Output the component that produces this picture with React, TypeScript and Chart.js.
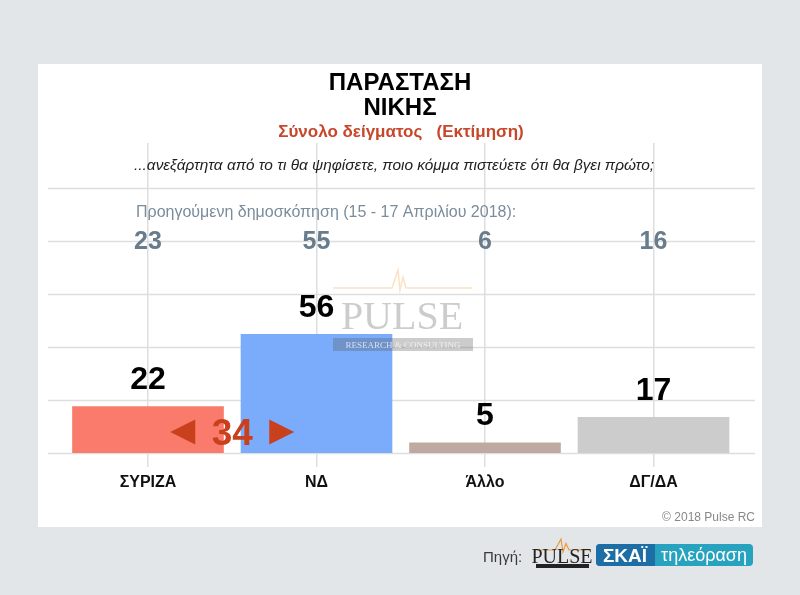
import React, { useEffect, useRef } from 'react';
import { Chart, registerables } from 'chart.js';

Chart.register(...registerables);

const categories = ['ΣΥΡΙΖΑ', 'ΝΔ', 'Άλλο', 'ΔΓ/ΔΑ'];
const currentValues = [22, 56, 5, 17];
const previousValues = [23, 55, 6, 16];
const barColors = ['#fa7b6c', '#7aacfb', '#bfaaa2', '#cccccc'];
const gridValues = [0, 25, 50, 75, 100, 125];
const titleLines = ['ΠΑΡΑΣΤΑΣΗ', 'ΝΙΚΗΣ'];
const subtitleText = 'Σύνολο δείγματος   (Εκτίμηση)';
const questionText = '...ανεξάρτητα από το τι θα ψηφίσετε, ποιο κόμμα πιστεύετε ότι θα βγει πρώτο;';
const previousLabel = 'Προηγούμενη δημοσκόπηση (15 - 17 Απριλίου 2018):';
const copyrightText = '© 2018 Pulse RC';
const sourceLabel = 'Πηγή:';
const pulseText = 'PULSE';
const pulseSub = 'RESEARCH & CONSULTING';
const skaiText = 'ΣΚΑΪ';
const tvText = 'τηλεόραση';

const SANS = '"Liberation Sans", Arial, sans-serif';
const SERIF = '"Liberation Serif", "Times New Roman", serif';

const backgroundPlugin = {
  id: 'panelBackground',
  beforeDraw(chart: any) {
    const ctx = chart.ctx;
    ctx.save();
    ctx.fillStyle = '#e3e6e9';
    ctx.fillRect(0, 0, chart.width, chart.height);
    ctx.fillStyle = '#ffffff';
    ctx.fillRect(38, 64, 724, 463);
    ctx.restore();
  },
};

const hGridPlugin = {
  id: 'hGrid',
  beforeDatasetsDraw(chart: any) {
    const ctx = chart.ctx;
    const y = chart.scales.y;
    ctx.save();
    ctx.strokeStyle = '#dedede';
    ctx.lineWidth = 1.5;
    gridValues.forEach((v) => {
      const py = Math.round(y.getPixelForValue(v)) + 0.5;
      ctx.beginPath();
      ctx.moveTo(48, py);
      ctx.lineTo(755, py);
      ctx.stroke();
    });
    ctx.restore();
  },
};

function drawPulseMark(ctx: CanvasRenderingContext2D, x0: number, x1: number, lineY: number, spikeX: number, spikeH: number) {
  ctx.beginPath();
  ctx.moveTo(x0, lineY);
  ctx.lineTo(spikeX - 6, lineY);
  ctx.lineTo(spikeX - 3, lineY - spikeH * 0.5);
  ctx.lineTo(spikeX, lineY - spikeH);
  ctx.lineTo(spikeX + 2, lineY + 2);
  ctx.lineTo(spikeX + 5, lineY - spikeH * 0.6);
  ctx.lineTo(spikeX + 8, lineY);
  ctx.lineTo(x1, lineY);
  ctx.stroke();
}

const textPlugin = {
  id: 'texts',
  afterDatasetsDraw(chart: any) {
    const ctx: CanvasRenderingContext2D = chart.ctx;
    const xs = chart.scales.x;
    const ys = chart.scales.y;
    ctx.save();

    // watermark
    ctx.globalAlpha = 0.3;
    ctx.strokeStyle = '#f0a040';
    ctx.lineWidth = 1.5;
    drawPulseMark(ctx, 333, 472, 288, 398, 18);
    ctx.fillStyle = '#555555';
    ctx.font = `40px ${SERIF}`;
    ctx.textAlign = 'center';
    ctx.textBaseline = 'alphabetic';
    ctx.fillText(pulseText, 402, 329);
    ctx.fillRect(333, 338, 140, 13);
    ctx.globalAlpha = 0.7;
    ctx.fillStyle = '#ffffff';
    ctx.font = `9px ${SERIF}`;
    ctx.fillText(pulseSub, 403, 348);
    ctx.globalAlpha = 1;

    // titles
    ctx.fillStyle = '#000000';
    ctx.font = `bold 24px ${SANS}`;
    ctx.textAlign = 'center';
    ctx.fillText(titleLines[0], 400, 90);
    ctx.fillText(titleLines[1], 400, 115);
    ctx.fillStyle = '#c8462a';
    ctx.font = `bold 17px ${SANS}`;
    ctx.fillText(subtitleText, 401, 137);

    ctx.fillStyle = '#222222';
    ctx.font = `italic 15.4px ${SANS}`;
    ctx.fillText(questionText, 394, 170);

    ctx.fillStyle = '#7b8c9b';
    ctx.font = `16px ${SANS}`;
    ctx.textAlign = 'left';
    ctx.fillText(previousLabel, 136, 217);

    // previous values
    ctx.textAlign = 'center';
    ctx.fillStyle = '#687c8c';
    ctx.font = `bold 25px ${SANS}`;
    previousValues.forEach((v, i) => {
      ctx.fillText(String(v), xs.getPixelForValue(i), 249);
    });

    // current values
    ctx.fillStyle = '#000000';
    ctx.font = `bold 32px ${SANS}`;
    currentValues.forEach((v, i) => {
      ctx.fillText(String(v), xs.getPixelForValue(i), ys.getPixelForValue(v) - 17);
    });

    // difference arrow
    const cx = (xs.getPixelForValue(0) + xs.getPixelForValue(1)) / 2;
    const cy = ys.getPixelForValue(0) - 21;
    ctx.fillStyle = '#c8401c';
    ctx.beginPath();
    ctx.moveTo(cx - 62, cy);
    ctx.lineTo(cx - 37, cy - 12.5);
    ctx.lineTo(cx - 37, cy + 12.5);
    ctx.closePath();
    ctx.fill();
    ctx.beginPath();
    ctx.moveTo(cx + 62, cy);
    ctx.lineTo(cx + 37, cy - 12.5);
    ctx.lineTo(cx + 37, cy + 12.5);
    ctx.closePath();
    ctx.fill();
    ctx.font = `bold 37px ${SANS}`;
    ctx.fillText(String(currentValues[1] - currentValues[0]), cx, cy + 13);

    // copyright
    ctx.fillStyle = '#888888';
    ctx.font = `12px ${SANS}`;
    ctx.textAlign = 'right';
    ctx.fillText(copyrightText, 755, 521);

    // footer
    ctx.fillStyle = '#3a3a3a';
    ctx.font = `15px ${SANS}`;
    ctx.textAlign = 'left';
    ctx.fillText(sourceLabel, 483, 562);

    ctx.strokeStyle = '#e89a3c';
    ctx.lineWidth = 1.2;
    drawPulseMark(ctx, 535, 590, 550, 561, 11);
    ctx.fillStyle = '#222222';
    ctx.font = `20px ${SERIF}`;
    ctx.textAlign = 'center';
    ctx.fillText(pulseText, 562, 563);
    ctx.fillRect(536, 564, 53, 4);

    ctx.fillStyle = '#27a3bf';
    ctx.beginPath();
    (ctx as any).roundRect(596, 544, 157, 22, 4);
    ctx.fill();
    ctx.fillStyle = '#1d6ea5';
    ctx.beginPath();
    (ctx as any).roundRect(596, 544, 59, 22, [4, 0, 0, 4]);
    ctx.fill();
    ctx.fillStyle = '#ffffff';
    ctx.font = `bold 19px ${SANS}`;
    ctx.fillText(skaiText, 625, 562);
    ctx.font = `18px ${SANS}`;
    ctx.fillText(tvText, 704, 561);

    ctx.restore();
  },
};

export default function App() {
  const canvasRef = useRef<HTMLCanvasElement | null>(null);

  useEffect(() => {
    document.body.style.margin = '0';
    const canvas = canvasRef.current;
    if (!canvas) return;
    const chart = new Chart(canvas, {
      type: 'bar',
      data: {
        labels: categories,
        datasets: [
          {
            data: currentValues,
            backgroundColor: barColors,
            borderWidth: 0,
            barPercentage: 0.9,
            categoryPercentage: 1,
          },
        ],
      },
      options: {
        animation: false,
        responsive: false,
        devicePixelRatio: 1,
        layout: {
          padding: { left: 63.75, right: 62.25, top: 143, bottom: 96.8 },
        },
        plugins: {
          legend: { display: false },
          tooltip: { enabled: false },
          title: { display: false },
        },
        scales: {
          x: {
            grid: {
              offset: false,
              color: '#dedede',
              lineWidth: 1.5,
              tickLength: 14,
              drawTicks: true,
            },
            border: { display: false },
            ticks: {
              color: '#111111',
              padding: 6,
              font: { family: SANS, size: 16, weight: 'bold' },
            },
          },
          y: {
            display: false,
            min: 0,
            max: 146,
          },
        },
      },
      plugins: [backgroundPlugin, hGridPlugin, textPlugin],
    });
    return () => chart.destroy();
  }, []);

  return (
    <div style={{ position: 'absolute', left: 0, top: 0, width: 800, height: 595 }}>
      <canvas ref={canvasRef} width={800} height={595} />
    </div>
  );
}
